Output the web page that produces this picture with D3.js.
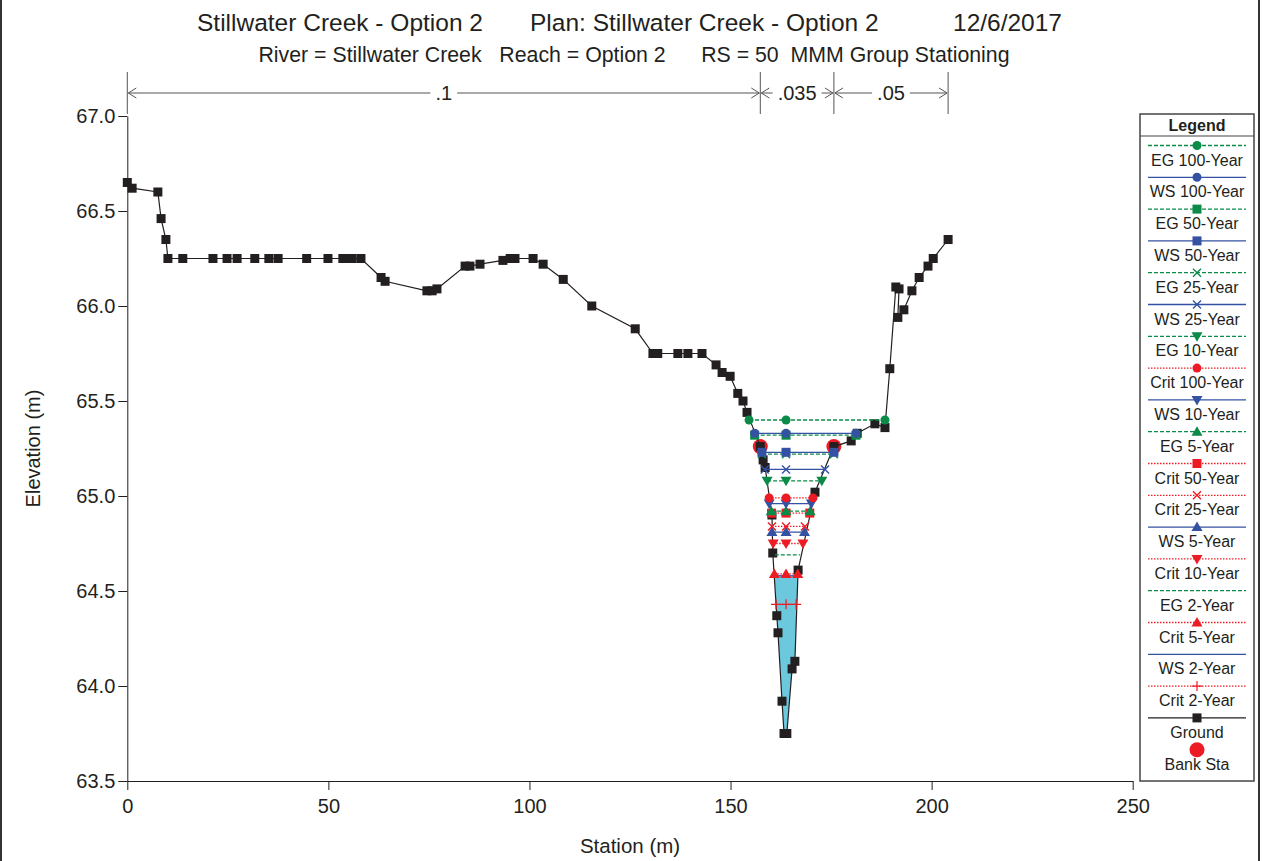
<!DOCTYPE html>
<html>
<head>
<meta charset="utf-8">
<script src="https://cdn.jsdelivr.net/npm/d3@7"></script>
<style>
  body { margin: 0; background: #fff; }
  text { font-family: "Liberation Sans", Arial, sans-serif; fill: #231f20; }
</style>
</head>
<body>
<div id="chart"></div>
<script>
// ---- data ----
const groundStation = [0.0, 1.2, 7.6, 8.4, 9.6, 10.1, 13.8, 21.3, 24.8, 27.3, 31.7, 35.2, 37.5, 44.6, 49.9,
  53.6, 54.9, 55.9, 58.1, 63.1, 64.1, 74.5, 75.8, 77.0, 84.0, 85.2, 87.7, 93.4, 95.2, 96.4, 100.9, 103.4,
  108.4, 115.5, 126.3, 130.7, 131.9, 136.9, 139.4, 142.9, 146.4, 147.9, 149.9, 151.8, 153.1, 154.1, 157.4,
  158.1, 158.6, 160.3, 160.5, 161.5, 161.8, 162.8, 163.3, 164.0, 165.3, 166.0, 166.8, 171.0, 175.7, 180.0,
  181.5, 185.9, 188.4, 189.6, 191.1, 191.9, 191.6, 193.1, 195.1, 196.9, 199.1, 200.4, 204.1];
const groundElev = [66.65, 66.62, 66.60, 66.46, 66.35, 66.25, 66.25, 66.25, 66.25, 66.25, 66.25, 66.25, 66.25,
  66.25, 66.25, 66.25, 66.25, 66.25, 66.25, 66.15, 66.13, 66.08, 66.08, 66.09, 66.21, 66.21, 66.22, 66.24,
  66.25, 66.25, 66.25, 66.22, 66.14, 66.00, 65.88, 65.75, 65.75, 65.75, 65.75, 65.75, 65.69, 65.65, 65.63,
  65.54, 65.50, 65.44, 65.26, 65.19, 65.15, 64.90, 64.70, 64.37, 64.28, 63.92, 63.75, 63.75, 64.09, 64.13,
  64.61, 65.02, 65.26, 65.29, 65.33, 65.38, 65.36, 65.67, 66.10, 66.09, 65.94, 65.98, 66.08, 66.15, 66.21,
  66.25, 66.35];

const bankStation = [157.4, 175.7];
const bankElev = [65.26, 65.26];

const nBreaks = [0, 157.4, 175.7, 204.1];
const nValues = [".1", ".035", ".05"];

// profiles in legend order
const profileNames = ["EG 100-Year", "WS 100-Year", "EG 50-Year", "WS 50-Year", "EG 25-Year", "WS 25-Year",
  "EG 10-Year", "Crit 100-Year", "WS 10-Year", "EG 5-Year", "Crit 50-Year", "Crit 25-Year", "WS 5-Year",
  "Crit 10-Year", "EG 2-Year", "Crit 5-Year", "WS 2-Year", "Crit 2-Year"];
const profileElev = [65.40, 65.33, 65.32, 65.23, 65.22, 65.14, 65.08, 64.99, 64.96, 64.92, 64.91, 64.84,
  64.81, 64.75, 64.69, 64.59, 64.58, 64.43];
const profileLeft = [154.6, 156.0, 156.0, 157.8, 157.8, 158.5, 159.1, 159.6, 159.6, 160.1, 160.2, 160.3,
  160.3, 160.6, 161.0, 160.9, 160.9, 161.3];
const profileRight = [188.4, 181.2, 181.2, 175.7, 175.7, 173.5, 172.7, 170.5, 170.1, 169.8, 169.7, 168.5,
  168.4, 168.0, 167.3, 166.7, 166.7, 166.3];
const markerMidStation = 163.8;
const profileSymbols = ["circle", "circle", "square", "square", "x", "x", "down", "circle", "down", "up",
  "square", "x", "up", "down", null, "up", null, "plus"];

const xMajorTicks = [0, 50, 100, 150, 200, 250];
const yMajorTicks = [63.5, 64.0, 64.5, 65.0, 65.5, 66.0, 66.5, 67.0];

const titleParts = ["Stillwater Creek - Option 2", "Plan: Stillwater Creek - Option 2", "12/6/2017"];
const subtitle = "River = Stillwater Creek   Reach = Option 2      RS = 50  MMM Group Stationing";

// ---- layout ----
const W = 1262, H = 861;
const PLOT = { left: 127.3, right: 1132.7, top: 116, bottom: 781 };
const COLORS = { EG: "#0b8a48", WS: "#3452a3", Crit: "#ed1c24", ground: "#231f20", water: "#6cc8dc" };
const DASH = { EG: "4,2", WS: null, Crit: "1.5,1.5" };

const svg = d3.select("#chart").append("svg").attr("width", W).attr("height", H);

const x = d3.scaleLinear().domain([0, 250]).range([PLOT.left, PLOT.right]);
const y = d3.scaleLinear().domain([63.5, 67.0]).range([PLOT.bottom, PLOT.top]);

function kindOf(name) {
  return name.split(" ")[0];
}

function marker(g, type, cx, cy, color) {
  if (type === "circle") {
    g.append("circle").attr("cx", cx).attr("cy", cy).attr("r", 4.5).attr("fill", color);
  } else if (type === "square") {
    g.append("rect").attr("x", cx - 4.5).attr("y", cy - 4.5).attr("width", 9).attr("height", 9).attr("fill", color);
  } else if (type === "up") {
    g.append("path").attr("d", `M${cx},${cy - 5.5}L${cx + 5.5},${cy + 4}L${cx - 5.5},${cy + 4}Z`).attr("fill", color);
  } else if (type === "down") {
    g.append("path").attr("d", `M${cx},${cy + 5.5}L${cx + 5.5},${cy - 4}L${cx - 5.5},${cy - 4}Z`).attr("fill", color);
  } else if (type === "x") {
    g.append("path")
      .attr("d", `M${cx - 4},${cy - 4}L${cx + 4},${cy + 4}M${cx + 4},${cy - 4}L${cx - 4},${cy + 4}`)
      .attr("stroke", color).attr("stroke-width", 1.4).attr("fill", "none");
  } else if (type === "plus") {
    g.append("path")
      .attr("d", `M${cx - 5},${cy}H${cx + 5}M${cx},${cy - 5}V${cy + 5}`)
      .attr("stroke", color).attr("stroke-width", 1.2).attr("fill", "none");
  }
}

// outer frame (left/right edges only)
svg.append("line").attr("x1", 1).attr("x2", 1).attr("y1", 0).attr("y2", H).attr("stroke", "#333").attr("stroke-width", 2);
svg.append("line").attr("x1", 1259).attr("x2", 1259).attr("y1", 0).attr("y2", H).attr("stroke", "#333").attr("stroke-width", 2);

// titles
svg.append("text").attr("x", 197).attr("y", 31).attr("font-size", 24.5).text(titleParts[0]);
svg.append("text").attr("x", 530).attr("y", 31).attr("font-size", 24.5).text(titleParts[1]);
svg.append("text").attr("x", 1062).attr("y", 31).attr("font-size", 24.5).attr("text-anchor", "end").text(titleParts[2]);
svg.append("text").attr("x", 634).attr("y", 62).attr("font-size", 21.3).attr("text-anchor", "middle")
  .style("white-space", "pre").text(subtitle);

// axes
const gx = svg.append("g").attr("transform", `translate(0,${PLOT.bottom})`);
gx.call(d3.axisBottom(x).tickValues(d3.range(0, 251, 10)).tickSize(5).tickSizeOuter(0).tickFormat(""));
gx.call(d3.axisBottom(x).tickValues(xMajorTicks).tickSize(9).tickSizeOuter(0).tickPadding(9).tickFormat(d3.format("d")));
gx.selectAll("text").attr("font-size", 20).attr("font-family", null);

const gy = svg.append("g").attr("transform", `translate(${PLOT.left},0)`);
gy.call(d3.axisLeft(y).tickValues(d3.range(635, 671, 1).map((v) => v / 10)).tickSize(5).tickSizeOuter(0).tickFormat(""));
gy.call(d3.axisLeft(y).tickValues(yMajorTicks).tickSize(9).tickSizeOuter(0).tickPadding(3).tickFormat(d3.format(".1f")));
gy.selectAll("text").attr("font-size", 20).attr("font-family", null);
svg.selectAll(".domain, .tick line").attr("stroke", "#231f20");

svg.append("text").attr("font-size", 20).attr("text-anchor", "middle")
  .attr("transform", `translate(40,${(PLOT.top + PLOT.bottom) / 2}) rotate(-90)`).text("Elevation (m)");
svg.append("text").attr("font-size", 20.5).attr("text-anchor", "middle")
  .attr("x", (PLOT.left + PLOT.right) / 2).attr("y", 853).text("Station (m)");

// Manning's n bar
const nY = 93;
const nG = svg.append("g").attr("stroke", "#555").attr("fill", "none");
nBreaks.forEach((s) => {
  nG.append("line").attr("x1", x(s)).attr("x2", x(s)).attr("y1", 72).attr("y2", PLOT.top - 2);
});
nValues.forEach((v, i) => {
  const x0 = x(nBreaks[i]) + 1, x1 = x(nBreaks[i + 1]) - 1, xm = (x0 + x1) / 2;
  const t = svg.append("text").attr("x", xm).attr("y", nY + 7).attr("font-size", 20)
    .attr("text-anchor", "middle").text(v);
  const half = t.node().getComputedTextLength() / 2 + 5;
  nG.append("line").attr("x1", x0).attr("x2", xm - half).attr("y1", nY).attr("y2", nY);
  nG.append("line").attr("x1", xm + half).attr("x2", x1).attr("y1", nY).attr("y2", nY);
  nG.append("path").attr("d", `M${x0 + 8},${nY - 5}L${x0},${nY}L${x0 + 8},${nY + 5}`);
  nG.append("path").attr("d", `M${x1 - 8},${nY - 5}L${x1},${nY}L${x1 - 8},${nY + 5}`);
});

// water fill below WS 2-Year
const ws2 = profileNames.indexOf("WS 2-Year");
const wsElev = profileElev[ws2];
const fillPts = [[profileLeft[ws2], wsElev]];
groundStation.forEach((s, i) => {
  if (s > profileLeft[ws2] && s < profileRight[ws2] && groundElev[i] < wsElev) fillPts.push([s, groundElev[i]]);
});
fillPts.push([profileRight[ws2], wsElev]);
svg.append("path")
  .attr("d", d3.line().x((d) => x(d[0])).y((d) => y(d[1]))(fillPts) + "Z")
  .attr("fill", COLORS.water);

// bank stations
const bankG = svg.append("g");
bankStation.forEach((s, i) => {
  bankG.append("circle").attr("cx", x(s)).attr("cy", y(bankElev[i])).attr("r", 7.5).attr("fill", COLORS.Crit);
});

// ground
const ground = groundStation.map((s, i) => [s, groundElev[i]]);
svg.append("path")
  .attr("d", d3.line().x((d) => x(d[0])).y((d) => y(d[1]))(ground))
  .attr("fill", "none").attr("stroke", COLORS.ground).attr("stroke-width", 1.2);
const groundMarks = svg.append("g");
ground.forEach((d) => marker(groundMarks, "square", x(d[0]), y(d[1]), COLORS.ground));

// profiles, last legend entry drawn first
const profG = svg.append("g");
d3.range(profileNames.length - 1, -1, -1).forEach((i) => {
  const kind = kindOf(profileNames[i]);
  const c = COLORS[kind];
  const yy = y(profileElev[i]);
  profG.append("line")
    .attr("x1", x(profileLeft[i])).attr("x2", x(profileRight[i]))
    .attr("y1", yy).attr("y2", yy)
    .attr("stroke", c).attr("stroke-width", 1.3)
    .attr("stroke-dasharray", DASH[kind]);
  if (profileSymbols[i]) {
    [profileLeft[i], markerMidStation, profileRight[i]].forEach((s) =>
      marker(profG, profileSymbols[i], x(s), yy, c));
  }
});

// legend
const LEG = { x: 1140, y: 114, w: 114, h: 667, step: 31.8, first: 145.5 };
const leg = svg.append("g");
leg.append("rect").attr("x", LEG.x).attr("y", LEG.y).attr("width", LEG.w).attr("height", LEG.h)
  .attr("fill", "#fff").attr("stroke", "#444").attr("stroke-width", 1.5);
leg.append("line").attr("x1", LEG.x).attr("x2", LEG.x + LEG.w).attr("y1", 136).attr("y2", 136)
  .attr("stroke", "#444").attr("stroke-width", 1.2);
leg.append("text").attr("x", LEG.x + LEG.w / 2).attr("y", 131).attr("font-size", 16)
  .attr("font-weight", "bold").attr("text-anchor", "middle").text("Legend");

const legendItems = profileNames.map((n, i) => ({ name: n, kind: kindOf(n), symbol: profileSymbols[i] }))
  .concat([{ name: "Ground", kind: "ground", symbol: "square" }, { name: "Bank Sta", kind: "bank", symbol: null }]);
const cx = LEG.x + LEG.w / 2;
legendItems.forEach((d, i) => {
  const ly = LEG.first + i * LEG.step;
  if (d.kind === "bank") {
    leg.append("circle").attr("cx", cx).attr("cy", ly).attr("r", 7.5).attr("fill", COLORS.Crit);
  } else {
    const c = COLORS[d.kind];
    leg.append("line").attr("x1", LEG.x + 8).attr("x2", LEG.x + LEG.w - 8).attr("y1", ly).attr("y2", ly)
      .attr("stroke", c).attr("stroke-width", 1.3).attr("stroke-dasharray", DASH[d.kind] || null);
    if (d.symbol) marker(leg, d.symbol, cx, ly, c);
  }
  leg.append("text").attr("x", cx).attr("y", ly + 20).attr("font-size", 16)
    .attr("text-anchor", "middle").text(d.name);
});
</script>
</body>
</html>
